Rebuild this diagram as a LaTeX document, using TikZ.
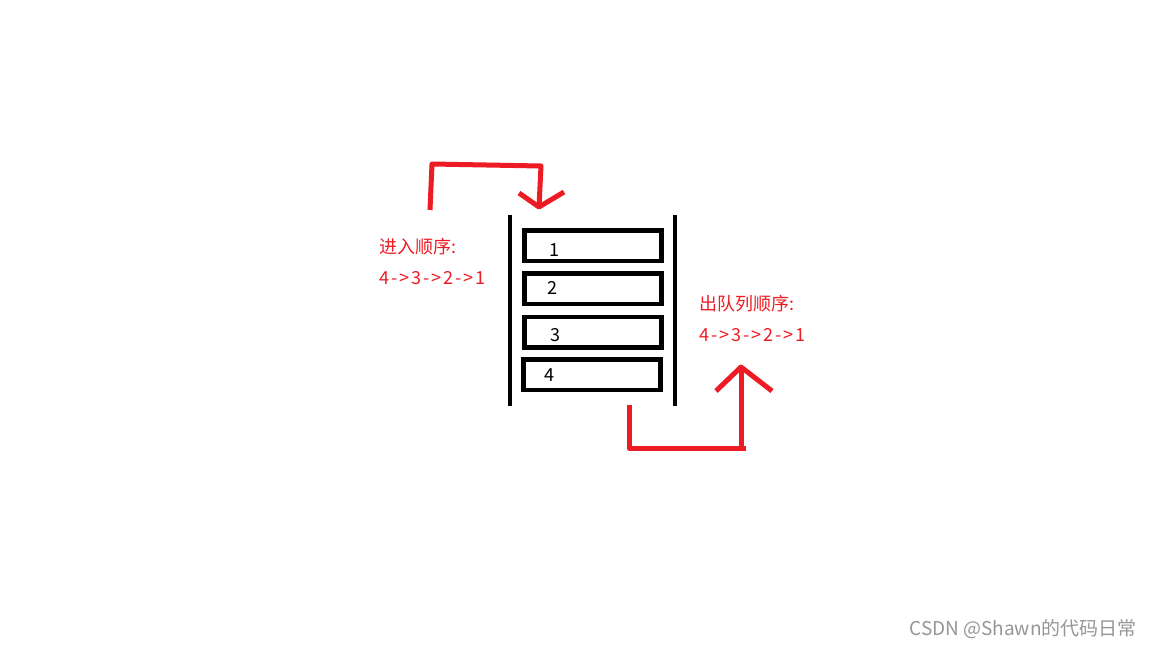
\documentclass[tikz,border=0pt]{standalone}
\usepackage{fontspec}
\setmainfont{Noto Sans CJK SC}
\definecolor{paintred}{RGB}{237,28,36}
\definecolor{markgray}{RGB}{150,150,150}
\begin{document}
\begin{tikzpicture}[x=1pt,y=-1pt,
  slot/.style={draw,line width=4.5pt,minimum width=137pt,minimum height=30.5pt,inner sep=0pt},
  num/.style={font=\fontsize{18}{18}\selectfont,inner sep=0pt},
  redpath/.style={draw=paintred,line width=5pt,line join=round},
  redtext/.style={text=paintred,anchor=west,inner sep=0pt,font=\fontsize{18}{18}\selectfont}]
\useasboundingbox[fill=white] (0,0) rectangle (1152,648);

% the queue walls
\draw[line width=4.5pt] (510,215) -- (510,406);
\draw[line width=4.5pt] (675,215) -- (675,406);

% the slots
\node [slot] (slot1) at (593,245.5) {};
\node [slot] (slot2) at (593,288.5) {};
\node [slot] (slot3) at (593,332) {};
\node [slot] (slot4) at (592,374.5) {};
\node [num] (n1) at (554,250) {1};
\node [num] (n2) at (552,288) {2};
\node [num] (n3) at (555,335) {3};
\node [num] (n4) at (549,375) {4};

% going in
\coordinate (inA) at (430,210);
\coordinate (inB) at (432,164);
\coordinate (inC) at (541,166);
\coordinate (inTip) at (539,207);
\draw[redpath] (inA) -- (inB) -- (inC) -- (inTip);
\draw[redpath] (519,193) -- (inTip) -- (564,192);

% coming out
\coordinate (outA) at (629,405);
\coordinate (outB) at (629,448);
\coordinate (outC) at (746,448);
\coordinate (outD) at (741,448);
\coordinate (outTip) at (741,367);
\draw[redpath] (outA) -- (outB) -- (outC);
\draw[redpath] (outD) -- (outTip);
\draw[redpath] (716,391) -- (outTip) -- (772,391);

% labels
\node [redtext] (inlabel) at (379,247) {进入顺序:};
\node [redtext] (inorder) at (379,278) {\addfontfeature{LetterSpace=11}4->3->2->1};
\node [redtext] (outlabel) at (699,304) {出队列顺序:};
\node [redtext] (outorder) at (699,335) {\addfontfeature{LetterSpace=11}4->3->2->1};

\node [text=markgray,anchor=east,inner sep=0pt,font=\fontsize{19}{20}\selectfont] (mark) at (1137,629) {CSDN @Shawn的代码日常};
\end{tikzpicture}
\end{document}
